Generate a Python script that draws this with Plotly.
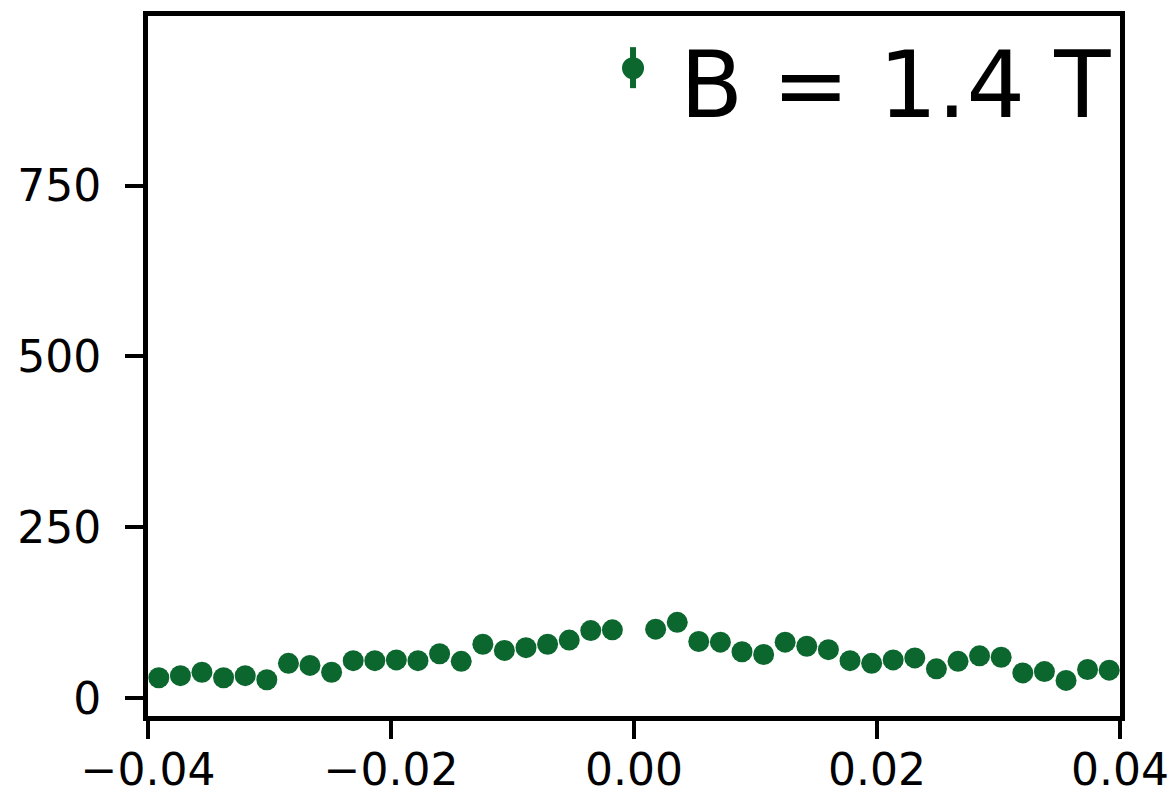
import plotly.graph_objects as go

# Bin centres (field offset) and counts
x_vals = [-0.03911, -0.03733, -0.03556, -0.03378, -0.03200, -0.03022, -0.02844,
          -0.02667, -0.02489, -0.02311, -0.02133, -0.01956, -0.01778, -0.01600,
          -0.01422, -0.01244, -0.01067, -0.00889, -0.00711, -0.00533, -0.00356,
          -0.00178,
          0.00178, 0.00356, 0.00533, 0.00711, 0.00889, 0.01067, 0.01244, 0.01422,
          0.01600, 0.01778, 0.01956, 0.02133, 0.02311, 0.02489, 0.02667, 0.02844,
          0.03022, 0.03200, 0.03378, 0.03556, 0.03733, 0.03911]
y_vals = [30, 33, 38, 30, 33, 27, 51, 48, 38, 55, 55, 56, 55, 65, 54, 79, 70, 74,
          79, 85, 99, 100,
          101, 111, 83, 82, 68, 64, 82, 76, 71, 55, 51, 56, 59, 43, 54, 62, 60,
          37, 39, 26, 42, 41]

x_ticks = [-0.04, -0.02, 0.0, 0.02, 0.04]
x_ticktext = ["\u22120.04", "\u22120.02", "0.00", "0.02", "0.04"]
y_ticks = [0, 250, 500, 750]
legend_label = "B = 1.4 T"

color = "#0b672e"
font = "DejaVu Sans"

fig = go.Figure()
fig.add_trace(go.Scatter(
    x=x_vals, y=y_vals, mode="markers",
    marker=dict(size=21, color=color, line=dict(width=0)),
    showlegend=False, cliponaxis=False,
))

axis_common = dict(
    showline=True, linecolor="black", linewidth=5, mirror=True,
    ticks="outside", ticklen=18, tickwidth=4, tickcolor="black",
    showgrid=False, zeroline=False, automargin=False,
    tickfont=dict(family=font, size=44, color="black"),
)
fig.update_xaxes(range=[-0.04, 0.04], tickvals=x_ticks, ticktext=x_ticktext,
                 ticklabelstandoff=-7, **axis_common)
fig.update_yaxes(range=[-26, 998], tickvals=y_ticks, ticklabelstandoff=15, **axis_common)

# Legend drawn manually (marker with errorbar + label)
lx, ly = 0.499, 0.9255
fig.add_shape(type="line", xref="paper", yref="paper", xsizemode="pixel", ysizemode="pixel",
              xanchor=lx, yanchor=ly, x0=0, x1=0, y0=-20, y1=21,
              line=dict(color=color, width=6))
fig.add_shape(type="circle", xref="paper", yref="paper", xsizemode="pixel", ysizemode="pixel",
              xanchor=lx, yanchor=ly, x0=-11, x1=11, y0=-11, y1=11,
              fillcolor=color, line=dict(width=0))
fig.add_annotation(xref="paper", yref="paper", x=0.5455, y=0.90, xanchor="left", yanchor="middle",
                   text=legend_label, showarrow=False,
                   font=dict(family=font, size=92, color="black"))

fig.update_layout(
    width=1176, height=799,
    margin=dict(l=148, r=56, t=16, b=83),
    paper_bgcolor="white", plot_bgcolor="white",
    showlegend=False,
)
fig.write_html("out.html")
